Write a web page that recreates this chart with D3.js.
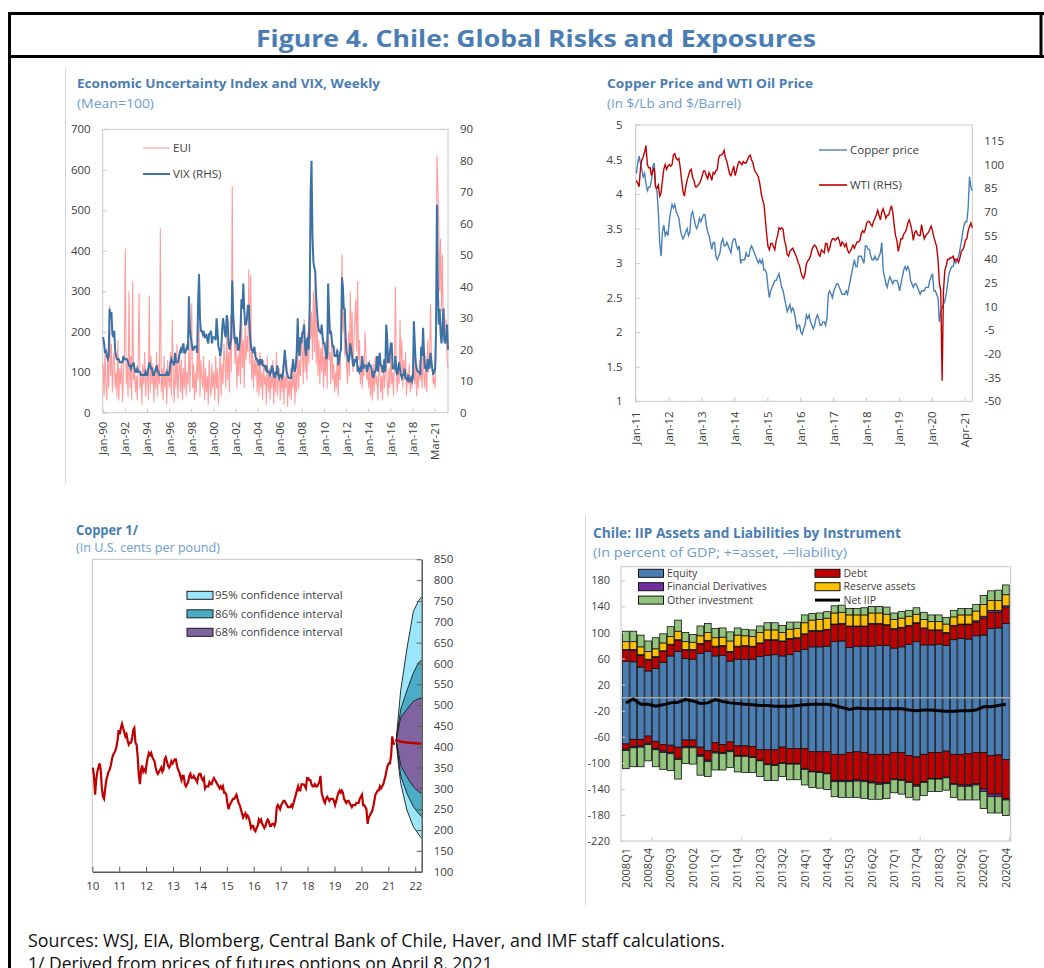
<!DOCTYPE html>
<html>
<head>
<meta charset="utf-8">
<script src="https://cdn.jsdelivr.net/npm/d3@7"></script>
<style>
  body { margin: 0; background: #fff; }
  svg { display: block; }
</style>
</head>
<body>
<svg id="fig" width="1044" height="968"></svg>
<script>
// ---- data ----

// Economic uncertainty index (mean=100) and VIX, monthly from Jan 1990 to Mar 2021
var euiMonthly = [
  120,40,160,70,30,140,60,265,90,170,50,130,
  150,60,100,40,180,30,110,70,130,25,90,160,
  405,70,120,40,300,60,140,30,325,80,110,50,
  90,30,130,295,60,100,20,120,70,150,40,90,
  110,30,290,50,140,70,120,25,100,60,150,40,
  120,70,455,50,110,30,140,60,100,20,130,80,
  60,150,40,230,90,25,120,60,170,35,100,140,
  50,130,30,110,60,150,40,100,70,180,50,140,
  270,60,120,30,100,50,150,80,220,40,130,90,
  60,140,30,110,50,90,20,130,70,40,120,60,
  100,30,140,60,110,20,90,150,40,120,70,170,
  130,60,190,80,150,50,240,100,560,180,220,120,
  190,60,140,90,200,70,250,110,180,60,220,130,
  190,150,355,120,340,80,160,60,130,90,150,50,
  120,40,150,60,100,30,130,70,90,20,140,50,
  110,30,90,60,130,20,100,50,150,40,80,110,
  30,100,50,120,20,90,60,130,15,80,40,110,
  30,90,60,120,20,100,50,170,60,130,90,200,
  150,70,230,100,160,80,200,120,280,180,250,130,
  300,150,352,120,230,90,180,70,160,100,200,60,
  140,90,180,60,250,130,150,70,190,80,120,50,
  100,60,160,40,130,80,220,390,200,250,140,180,
  120,70,200,90,300,140,250,100,180,230,280,150,
  325,130,180,70,140,60,120,90,200,150,80,110,
  60,130,40,100,30,120,50,140,70,90,30,110,
  120,50,90,30,130,60,100,150,80,40,110,60,
  160,70,100,40,130,311,90,50,120,70,230,100,
  180,60,130,80,150,40,100,70,120,50,90,60,
  110,150,70,120,40,100,60,130,80,110,60,150,
  90,60,140,50,180,100,120,268,150,110,70,90,
  60,130,635,560,470,300,430,250,390,200,260,180,
  230,130,110
];
var vixMonthly = [
  24,22,19,20,18,17,18,33,30,32,25,24,
  26,20,18,17,17,17,16,16,16,16,18,17,
  17,17,17,16,15,15,14,15,15,16,14,13,
  13,14,13,13,13,12,12,12,12,12,13,12,
  12,14,16,15,14,14,12,12,13,14,15,13,
  13,12,12,12,12,12,12,12,12,13,12,12,
  13,16,17,16,16,15,19,16,16,16,17,19,
  20,19,21,22,19,19,20,21,20,37,27,24,
  22,20,20,21,21,21,19,35,44,30,26,26,
  25,26,24,24,25,23,22,25,25,26,22,24,
  24,24,23,30,26,21,20,18,20,26,30,28,
  25,24,31,29,22,20,22,24,42,32,26,23,
  22,24,20,20,22,27,36,33,41,33,28,28,
  30,34,34,26,22,20,20,19,21,18,17,17,
  16,15,17,16,17,15,15,15,14,15,13,13,
  13,12,13,15,14,12,11,13,12,15,12,11,
  12,12,11,12,16,20,16,13,12,11,11,11,
  11,14,17,14,13,15,20,30,20,18,24,22,
  25,26,28,21,18,23,24,20,34,70,80,56,
  48,46,45,37,32,28,26,26,25,28,24,22,
  22,20,17,18,41,32,25,26,23,21,21,18,
  18,18,20,15,17,19,20,43,40,33,33,24,
  19,18,16,17,22,20,18,15,15,17,16,18,
  13,14,13,14,13,18,14,15,15,15,13,14,
  16,15,15,14,12,11,13,13,14,18,13,17,
  19,15,15,13,13,17,13,28,24,16,16,19,
  22,22,14,14,14,18,13,12,14,16,14,12,
  11,12,12,14,11,11,10,12,10,10,11,10,
  11,29,22,16,14,13,13,13,12,21,18,27,
  19,14,15,13,17,15,14,19,16,14,12,13,
  14,25,66,40,28,33,25,22,27,33,23,22,
  24,28,20
];
var euiTickYears = [1990,1992,1994,1996,1998,2000,2002,2004,2006,2008,2010,2012,2014,2016,2018,2020];
var euiTickLabels = ['Jan-90','Jan-92','Jan-94','Jan-96','Jan-98','Jan-00','Jan-02','Jan-04','Jan-06','Jan-08','Jan-10','Jan-12','Jan-14','Jan-16','Jan-18','Mar-21'];

// Copper ($/lb) and WTI ($/barrel), twice a month from Jan 2011 to Mar 2021
var copperPrice = [
  4.30,4.45,4.55,4.45,4.35,4.25,4.30,4.15,4.05,4.10,4.10,4.20,4.40,4.45,4.10,4.05,3.75,3.30,3.10,3.45,3.55,3.40,3.45,3.40,
  3.60,3.75,3.85,3.80,3.85,3.75,3.70,3.65,3.50,3.40,3.35,3.40,3.45,3.50,3.40,3.45,3.70,3.75,3.65,3.55,3.50,3.55,3.65,3.60,
  3.65,3.70,3.70,3.55,3.45,3.40,3.30,3.20,3.30,3.30,3.10,3.05,3.10,3.15,3.30,3.35,3.25,3.25,3.30,3.25,3.20,3.15,3.30,3.35,
  3.35,3.25,3.20,3.25,3.00,3.05,3.05,3.05,3.15,3.10,3.10,3.20,3.25,3.20,3.15,3.10,3.05,3.00,3.05,3.00,3.05,2.90,2.90,2.85,
  2.65,2.50,2.60,2.65,2.70,2.75,2.75,2.80,2.85,2.75,2.65,2.60,2.50,2.40,2.30,2.35,2.40,2.30,2.35,2.30,2.20,2.05,2.10,2.10,
  2.00,1.97,2.05,2.10,2.25,2.20,2.25,2.15,2.10,2.05,2.10,2.20,2.25,2.20,2.10,2.10,2.15,2.15,2.10,2.20,2.55,2.60,2.55,2.50,
  2.60,2.65,2.70,2.70,2.65,2.60,2.55,2.55,2.55,2.60,2.55,2.65,2.75,2.85,2.95,3.05,2.95,2.95,3.10,3.10,3.10,3.05,3.00,3.25,
  3.25,3.20,3.20,3.10,3.05,3.05,3.10,3.05,3.05,3.10,3.15,3.30,2.90,2.80,2.70,2.65,2.75,2.80,2.75,2.70,2.75,2.75,2.75,2.70,
  2.60,2.70,2.80,2.90,2.95,2.90,2.95,2.90,2.75,2.70,2.65,2.70,2.70,2.65,2.60,2.55,2.60,2.60,2.60,2.65,2.65,2.65,2.75,2.80,
  2.85,2.60,2.60,2.55,2.50,2.15,2.30,2.35,2.40,2.45,2.55,2.70,2.85,2.90,2.95,2.95,3.05,3.00,3.05,3.10,3.20,3.30,3.45,3.55,
  3.60,3.60,3.80,4.25,4.10,4.05
];
var wtiPrice = [
  90,88,86,98,103,105,108,112,100,98,98,93,96,98,86,85,87,80,82,90,97,100,97,99,
  100,99,100,106,107,104,103,104,98,90,83,80,86,90,93,96,97,92,90,86,86,87,88,90,
  93,96,96,93,91,95,93,90,95,94,96,97,104,106,106,107,109,104,102,98,94,93,96,99,
  93,96,100,102,101,100,102,101,101,103,105,106,103,101,97,95,94,92,88,82,78,75,66,56,
  48,46,50,50,48,46,52,55,60,59,60,59,52,49,43,42,45,46,47,45,43,41,38,36,
  32,29,28,31,37,39,40,42,46,48,49,48,46,43,42,46,45,44,50,50,45,47,51,53,
  53,52,53,54,52,48,51,50,48,50,46,44,45,47,49,47,49,51,51,52,56,58,57,59,
  63,64,64,62,61,64,66,68,71,68,65,70,72,69,66,68,68,71,74,70,62,55,52,45,
  49,53,53,56,57,59,63,65,62,58,52,57,58,56,55,55,62,57,53,55,56,57,59,61,
  58,54,51,48,40,25,20,-37,20,33,36,40,40,41,41,42,39,40,40,38,41,45,46,48,
  52,53,58,61,63,60
];
var oilTickYears = [2011,2012,2013,2014,2015,2016,2017,2018,2019,2020,2021];
var oilTickLabels = ['Jan-11','Jan-12','Jan-13','Jan-14','Jan-15','Jan-16','Jan-17','Jan-18','Jan-19','Jan-20','Apr-21'];

// Copper in U.S. cents per pound: 2010 twice a month, then the copper series above
var copper2010Cents = [350,330,285,320,340,350,360,345,300,280,275,300,320,330,340,345,355,370,380,385,390,400,415,440];
// fan from futures options (April 8, 2021)
var fanDates = [2021.29, 2021.38, 2021.46, 2021.69, 2021.93, 2022.12, 2022.24];
var fanMedian = [417, 414, 412, 410, 409, 408, 407];
var fan95Hi = [415, 480, 535, 635, 725, 750, 760];
var fan86Hi = [415, 455, 490, 535, 577, 602, 608];
var fan68Hi = [415, 445, 470, 490, 509, 515, 517];
var fan68Lo = [415, 385, 355, 328, 304, 292, 288];
var fan86Lo = [415, 370, 330, 288, 256, 240, 232];
var fan95Lo = [415, 355, 312, 248, 208, 190, 180];
var fanTickYears = [2010,2011,2012,2013,2014,2015,2016,2017,2018,2019,2020,2021,2022];
var fanTickLabels = ['10','11','12','13','14','15','16','17','18','19','20','21','22'];

// IIP, percent of GDP
var quarters = [
  '2008Q1','2008Q2','2008Q3','2008Q4','2009Q1','2009Q2','2009Q3','2009Q4','2010Q1','2010Q2','2010Q3','2010Q4',
  '2011Q1','2011Q2','2011Q3','2011Q4','2012Q1','2012Q2','2012Q3','2012Q4','2013Q1','2013Q2','2013Q3','2013Q4',
  '2014Q1','2014Q2','2014Q3','2014Q4','2015Q1','2015Q2','2015Q3','2015Q4','2016Q1','2016Q2','2016Q3','2016Q4',
  '2017Q1','2017Q2','2017Q3','2017Q4','2018Q1','2018Q2','2018Q3','2018Q4','2019Q1','2019Q2','2019Q3','2019Q4',
  '2020Q1','2020Q2','2020Q3','2020Q4'
];
var assetEquity = [56,55,47,41,45,54,64,71,60,59,68,71,64,65,56,59,59,59,63,65,66,64,66,71,74,78,78,79,86,87,77,79,79,79,80,80,76,78,82,86,81,81,82,80,89,91,90,95,96,106,107,114];
var assetDebt = [17,18,18,17,17,17,17,17,13,14,14,16,14,14,14,19,20,19,20,23,22,22,24,20,23,24,24,25,26,26,32,30,30,34,33,31,29,29,28,28,25,22,21,19,21,21,22,21,26,25,24,24];
var assetDerivatives = [1,1,1,1,1,1,1,1,1,1,1,1,1,1,1,1,1,1,1,1,1,1,1,1,1,1,1,1,1,1,1,1,1,1,1,1,1,1,1,1,1,1,1,1,1,1,1,2,3,3,3,3];
var reserveAssets = [12,12,12,12,12,12,12,13,12,11,12,12,13,13,16,17,15,15,16,15,15,13,14,14,17,16,17,17,17,17,17,17,17,16,16,16,14,14,14,13,13,13,13,13,13,14,14,15,18,15,15,17];
var assetOther = [16,16,18,16,17,14,15,17,14,12,15,14,14,14,14,11,10,10,10,11,11,11,11,10,12,10,10,10,11,11,10,10,11,10,10,11,10,10,9,10,11,10,10,10,10,10,10,10,14,15,16,15];
var liabEquity = [-71,-64,-64,-59,-67,-72,-73,-76,-65,-65,-76,-81,-69,-72,-68,-74,-74,-75,-80,-80,-80,-76,-78,-78,-78,-83,-83,-83,-87,-87,-84,-83,-84,-87,-87,-87,-84,-84,-89,-91,-87,-84,-84,-82,-87,-87,-86,-84,-84,-89,-88,-95];
var liabDebt = [-8,-11,-10,-11,-11,-10,-11,-17,-10,-10,-12,-15,-14,-12,-13,-15,-15,-16,-16,-22,-23,-24,-23,-23,-31,-30,-31,-33,-40,-40,-43,-43,-43,-42,-44,-43,-41,-42,-40,-43,-42,-40,-40,-40,-45,-47,-48,-48,-56,-59,-60,-60];
var liabDerivatives = [-2,-2,-2,-2,-2,-2,-2,-2,-2,-2,-2,-2,-2,-2,-2,-1,-1,-1,-1,-1,-1,-1,-1,-1,-1,-1,-1,-1,-2,-2,-2,-2,-2,-2,-2,-2,-1,-1,-1,-2,-1,-1,-1,-1,-1,-2,-2,-2,-4,-4,-4,-2];
var liabOther = [-28,-29,-30,-25,-26,-26,-26,-30,-24,-25,-29,-23,-26,-25,-24,-24,-25,-23,-24,-24,-23,-20,-24,-24,-24,-24,-24,-24,-23,-24,-24,-25,-26,-25,-23,-23,-20,-21,-23,-21,-20,-19,-19,-19,-20,-21,-21,-23,-26,-25,-25,-24];
var netIIP = [-8,-2,-10,-10,-13,-11,-8,-7,-3,-5,-9,-8,-3,-6,-8,-9,-10,-11,-12,-12,-13,-13,-13,-12,-11,-10,-10,-10,-12,-15,-18,-16,-17,-17,-17,-17,-17,-17,-19,-20,-19,-19,-20,-21,-21,-20,-20,-19,-14,-14,-12,-10];
var iipLabelEvery = 3;

// ---- styles ----
var FONT = "'Open Sans', 'Noto Sans', sans-serif";
var TITLE_BLUE = '#4a7db3', SUB_BLUE = '#6d9dcb', AXIS_TEXT = '#404040', BOX = '#c8c8c8';
var C = { equity: '#4a7db3', debt: '#c00000', deriv: '#7030a0', reserve: '#ffc000', other: '#93c47d' };
var plain = function (d) { return String(d); };

var svg = d3.select('#fig').attr('font-family', FONT);

function styleAxis(g, size) {
  g.attr('font-family', FONT).attr('font-size', size);
  g.selectAll('.tick text').attr('fill', AXIS_TEXT);
}

function rotateLabels(g, gap) {
  g.selectAll('.tick text')
      .attr('transform', 'rotate(-90)')
      .attr('x', -gap)
      .attr('y', 0)
      .attr('dy', '0.35em')
      .attr('text-anchor', 'end');
}

function panelTitle(x, y, title, titleLen, titleSize, sub, subLen, gap) {
  svg.append('text')
      .attr('x', x).attr('y', y)
      .attr('font-size', titleSize).attr('font-weight', 700)
      .attr('fill', TITLE_BLUE)
      .attr('textLength', titleLen).attr('lengthAdjust', 'spacingAndGlyphs')
      .text(title);
  svg.append('text')
      .attr('x', x).attr('y', y + gap)
      .attr('font-size', 13)
      .attr('fill', SUB_BLUE)
      .attr('textLength', subLen).attr('lengthAdjust', 'spacingAndGlyphs')
      .text(sub);
}

function drawFrame() {
  var f = svg.append('g').attr('stroke', '#000').attr('stroke-width', 3);
  f.append('line').attr('x1', 8).attr('x2', 1044).attr('y1', 13.5).attr('y2', 13.5);
  f.append('line').attr('x1', 8).attr('x2', 1044).attr('y1', 56.5).attr('y2', 56.5);
  f.append('line').attr('x1', 9.5).attr('x2', 9.5).attr('y1', 12).attr('y2', 968);
  f.append('line').attr('x1', 1041).attr('x2', 1041).attr('y1', 12).attr('y2', 58);

  svg.append('text')
      .attr('x', 256).attr('y', 47)
      .attr('font-size', 24).attr('font-weight', 700)
      .attr('fill', TITLE_BLUE)
      .attr('textLength', 560).attr('lengthAdjust', 'spacingAndGlyphs')
      .text('Figure 4. Chile: Global Risks and Exposures');

  // faint chart-area edges
  svg.append('line').attr('x1', 65.5).attr('x2', 65.5).attr('y1', 68).attr('y2', 483)
      .attr('stroke', '#d4d4d4');
  svg.append('line').attr('x1', 585.5).attr('x2', 585.5).attr('y1', 515).attr('y2', 905)
      .attr('stroke', '#d4d4d4');

  svg.append('text')
      .attr('x', 28).attr('y', 947)
      .attr('font-size', 18).attr('fill', '#111')
      .attr('textLength', 697).attr('lengthAdjust', 'spacingAndGlyphs')
      .text('Sources: WSJ, EIA, Blomberg, Central Bank of Chile, Haver, and IMF staff calculations.');
  svg.append('text')
      .attr('x', 28).attr('y', 970)
      .attr('font-size', 18).attr('fill', '#111')
      .attr('textLength', 469).attr('lengthAdjust', 'spacingAndGlyphs')
      .text('1/ Derived from prices of futures options on April 8, 2021.');
}

function lineLegend(items, x0, y0, step, len, size) {
  var lg = svg.append('g').attr('font-size', size);
  items.forEach(function (d, i) {
    var yy = y0 + i * step;
    lg.append('line').attr('x1', x0).attr('x2', x0 + len).attr('y1', yy).attr('y2', yy)
        .attr('stroke', d.color).attr('stroke-width', d.width);
    lg.append('text').attr('x', x0 + len + 3).attr('y', yy).attr('dy', '0.35em')
        .attr('fill', AXIS_TEXT).text(d.name);
  });
}

function drawUncertainty() {
  var box = { l: 102.7, r: 448, t: 129.3, b: 412.7 };
  var x = d3.scaleLinear().domain([1990, 2021.21]).range([box.l, box.r]);
  var yL = d3.scaleLinear().domain([0, 700]).range([box.b, box.t]);
  var yR = d3.scaleLinear().domain([0, 90]).range([box.b, box.t]);
  var g = svg.append('g');

  g.append('rect')
      .attr('x', box.l).attr('y', box.t)
      .attr('width', box.r - box.l).attr('height', box.b - box.t)
      .attr('fill', 'none').attr('stroke', BOX);

  var gl = g.append('g').attr('transform', 'translate(' + box.l + ',0)')
      .call(d3.axisLeft(yL).tickValues(d3.range(0, 701, 100)).tickFormat(plain)
        .tickSizeInner(-4).tickSizeOuter(0).tickPadding(12));
  gl.select('.domain').remove();
  gl.selectAll('.tick line').attr('stroke', BOX);
  styleAxis(gl, 11.5);

  var gr = g.append('g').attr('transform', 'translate(' + box.r + ',0)')
      .call(d3.axisRight(yR).tickValues(d3.range(0, 91, 10)).tickFormat(plain).tickSize(0).tickPadding(12));
  gr.select('.domain').remove();
  styleAxis(gr, 11.5);

  var gb = g.append('g').attr('transform', 'translate(0,' + box.b + ')')
      .call(d3.axisBottom(x).tickValues(euiTickYears)
        .tickFormat(function (d, i) { return euiTickLabels[i]; })
        .tickSizeInner(-4).tickSizeOuter(0));
  gb.select('.domain').remove();
  gb.selectAll('.tick line').attr('stroke', BOX);
  styleAxis(gb, 11.5);
  rotateLabels(gb, 9);

  var monthX = function (d, i) { return x(1990 + (i + 0.5) / 12); };

  g.append('path')
      .datum(euiMonthly)
      .attr('d', d3.line().x(monthX).y(function (d) { return yL(d); }))
      .attr('fill', 'none')
      .attr('stroke', '#ff9d9d')
      .attr('stroke-width', 1.1);

  g.append('path')
      .datum(vixMonthly)
      .attr('d', d3.line().x(monthX).y(function (d) { return yR(d); }))
      .attr('fill', 'none')
      .attr('stroke', '#3b71a5')
      .attr('stroke-width', 2);

  lineLegend([
    { name: 'EUI', color: '#ffa6a6', width: 1.2 },
    { name: 'VIX (RHS)', color: '#3b71a5', width: 2 }
  ], 143, 148, 26, 27, 11.5);

  panelTitle(77, 87.5, 'Economic Uncertainty Index and VIX, Weekly', 303, 13, '(Mean=100)', 77, 20);
}

function drawOil() {
  var box = { l: 635.7, r: 972.3, t: 125, b: 401.3 };
  var x = d3.scaleLinear().domain([2011, 2021.23]).range([box.l, box.r]);
  var yL = d3.scaleLinear().domain([1, 5]).range([box.b, box.t]);
  var yR = d3.scaleLinear().domain([-50, 125.1]).range([box.b, box.t]);
  var g = svg.append('g');

  g.append('rect')
      .attr('x', box.l).attr('y', box.t)
      .attr('width', box.r - box.l).attr('height', box.b - box.t)
      .attr('fill', 'none').attr('stroke', BOX);

  var gl = g.append('g').attr('transform', 'translate(' + box.l + ',0)')
      .call(d3.axisLeft(yL).tickValues(d3.range(1, 5.01, 0.5)).tickFormat(plain)
        .tickSizeInner(-4).tickSizeOuter(0).tickPadding(13));
  gl.select('.domain').remove();
  gl.selectAll('.tick line').attr('stroke', BOX);
  styleAxis(gl, 11.5);

  var gr = g.append('g').attr('transform', 'translate(' + box.r + ',0)')
      .call(d3.axisRight(yR).tickValues(d3.range(-50, 116, 15)).tickFormat(plain).tickSize(0).tickPadding(12));
  gr.select('.domain').remove();
  styleAxis(gr, 11.5);

  var gb = g.append('g').attr('transform', 'translate(0,' + box.b + ')')
      .call(d3.axisBottom(x).tickValues(oilTickYears)
        .tickFormat(function (d, i) { return oilTickLabels[i]; })
        .tickSizeInner(-4).tickSizeOuter(0));
  gb.select('.domain').remove();
  gb.selectAll('.tick line').attr('stroke', BOX);
  styleAxis(gb, 11.5);
  rotateLabels(gb, 10);

  var halfMonthX = function (d, i) { return x(2011 + (i + 0.5) / 24); };

  g.append('path')
      .datum(copperPrice)
      .attr('d', d3.line().x(halfMonthX).y(function (d) { return yL(d); }))
      .attr('fill', 'none')
      .attr('stroke', '#4a80b8')
      .attr('stroke-width', 1.4);

  g.append('path')
      .datum(wtiPrice)
      .attr('d', d3.line().x(halfMonthX).y(function (d) { return yR(d); }))
      .attr('fill', 'none')
      .attr('stroke', '#c00000')
      .attr('stroke-width', 1.4);

  lineLegend([
    { name: 'Copper price', color: '#4a80b8', width: 1.4 },
    { name: 'WTI (RHS)', color: '#c00000', width: 1.6 }
  ], 819, 150, 35, 28, 11.5);

  panelTitle(607, 88, 'Copper Price and WTI Oil Price', 206, 13, '(In $/Lb and $/Barrel)', 134, 19.5);
}

function drawCopperFan() {
  var box = { l: 92.3, r: 421.7, t: 559.3, b: 871.7 };
  var x = d3.scaleLinear().domain([2010, 2022.24]).range([box.l, box.r]);
  var y = d3.scaleLinear().domain([100, 850]).range([box.b, box.t]);
  var g = svg.append('g');

  g.append('path')
      .attr('d', 'M' + box.l + ',' + box.b + 'V' + box.t + 'H' + box.r)
      .attr('fill', 'none').attr('stroke', BOX);

  function band(lo, hi) {
    return d3.area()
        .x(function (d, i) { return x(fanDates[i]); })
        .y0(function (d, i) { return y(lo[i]); })
        .y1(function (d, i) { return y(hi[i]); })(fanDates);
  }
  function edge(vals) {
    return d3.line()
        .x(function (d, i) { return x(fanDates[i]); })
        .y(function (d) { return y(d); })(vals);
  }

  g.append('path').attr('d', band(fan95Lo, fan95Hi)).attr('fill', '#9be6fb');
  g.append('path').attr('d', band(fan86Lo, fan86Hi)).attr('fill', '#4aacc6');
  g.append('path').attr('d', band(fan68Lo, fan68Hi)).attr('fill', '#8064a2');
  [fan95Hi, fan86Hi, fan68Hi, fan68Lo, fan86Lo, fan95Lo].forEach(function (vals) {
    g.append('path').attr('d', edge(vals))
        .attr('fill', 'none').attr('stroke', '#1a1a1a').attr('stroke-width', 0.9);
  });

  var hist = copper2010Cents.map(function (v, i) { return { t: 2010 + (i + 0.5) / 24, v: v }; })
      .concat(copperPrice.map(function (v, i) { return { t: 2011 + (i + 0.5) / 24, v: v * 100 }; }));

  g.append('path')
      .datum(hist)
      .attr('d', d3.line().x(function (d) { return x(d.t); }).y(function (d) { return y(d.v); }))
      .attr('fill', 'none')
      .attr('stroke', '#c00000')
      .attr('stroke-width', 2.2);

  g.append('path')
      .attr('d', edge(fanMedian))
      .attr('fill', 'none')
      .attr('stroke', '#c00000')
      .attr('stroke-width', 2.5);

  var gb = g.append('g').attr('transform', 'translate(0,' + box.b + ')')
      .call(d3.axisBottom(x).tickValues(fanTickYears)
        .tickFormat(function (d, i) { return fanTickLabels[i]; })
        .tickSizeInner(-5).tickSizeOuter(0).tickPadding(10));
  gb.select('.domain').attr('stroke', '#595959').attr('stroke-width', 1.5);
  gb.selectAll('.tick line').attr('stroke', '#595959');
  styleAxis(gb, 11.5);

  var gr = g.append('g').attr('transform', 'translate(' + box.r + ',0)')
      .call(d3.axisRight(y).tickValues(d3.range(100, 851, 50)).tickFormat(plain)
        .tickSizeInner(-5).tickSizeOuter(0).tickPadding(12));
  gr.select('.domain').attr('stroke', '#595959').attr('stroke-width', 1.5);
  gr.selectAll('.tick line').attr('stroke', '#595959');
  styleAxis(gr, 11.5);

  var legend = [
    { name: '95% confidence interval', color: '#9be6fb' },
    { name: '86% confidence interval', color: '#4aacc6' },
    { name: '68% confidence interval', color: '#8064a2' }
  ];
  var lg = g.append('g').attr('font-size', 11.5);
  legend.forEach(function (d, i) {
    var yy = 595.3 + i * 18.5;
    lg.append('rect').attr('x', 187).attr('y', yy - 4).attr('width', 26).attr('height', 8)
        .attr('fill', d.color).attr('stroke', '#1a1a1a').attr('stroke-width', 1);
    lg.append('text').attr('x', 215).attr('y', yy).attr('dy', '0.35em')
        .attr('fill', AXIS_TEXT).text(d.name);
  });

  panelTitle(76, 534.5, 'Copper 1/', 62, 13.5, '(In U.S. cents per pound)', 144, 17.5);
}

function drawIIP() {
  var box = { l: 621, r: 1010.7, t: 566.7, b: 841 };
  var x = d3.scaleBand().domain(quarters).range([box.l, box.r]).paddingInner(0.1).paddingOuter(0.2);
  var y = d3.scaleLinear().domain([-220, 201]).range([box.b, box.t]);
  var g = svg.append('g');

  g.append('rect')
      .attr('x', box.l).attr('y', box.t)
      .attr('width', box.r - box.l).attr('height', box.b - box.t)
      .attr('fill', 'none').attr('stroke', BOX);

  var rows = quarters.map(function (q, i) {
    return {
      q: q,
      aEq: assetEquity[i], aDebt: assetDebt[i], aDer: assetDerivatives[i], aRes: reserveAssets[i], aOth: assetOther[i],
      lEq: liabEquity[i], lDebt: liabDebt[i], lDer: liabDerivatives[i], lOth: liabOther[i]
    };
  });
  var keys = ['aEq', 'lEq', 'aDebt', 'lDebt', 'aDer', 'lDer', 'aRes', 'aOth', 'lOth'];
  var colorOf = {
    aEq: C.equity, lEq: C.equity, aDebt: C.debt, lDebt: C.debt, aDer: C.deriv, lDer: C.deriv,
    aRes: C.reserve, aOth: C.other, lOth: C.other
  };
  var series = d3.stack().keys(keys).offset(d3.stackOffsetDiverging)(rows);

  g.append('g')
    .selectAll('g')
    .data(series)
    .enter().append('g')
      .attr('fill', function (s) { return colorOf[s.key]; })
    .selectAll('rect')
    .data(function (s) { return s; })
    .enter().append('rect')
      .attr('x', function (d) { return x(d.data.q); })
      .attr('y', function (d) { return y(Math.max(d[0], d[1])); })
      .attr('width', x.bandwidth())
      .attr('height', function (d) { return Math.abs(y(d[0]) - y(d[1])); })
      .attr('stroke', '#111')
      .attr('stroke-width', 0.8);

  g.append('line')
      .attr('x1', box.l).attr('x2', box.r)
      .attr('y1', y(0)).attr('y2', y(0))
      .attr('stroke', '#a6a6a6').attr('stroke-width', 1.5);

  g.append('path')
      .datum(netIIP)
      .attr('d', d3.line()
        .x(function (d, i) { return x(quarters[i]) + x.bandwidth() / 2; })
        .y(function (d) { return y(d); }))
      .attr('fill', 'none')
      .attr('stroke', '#000')
      .attr('stroke-width', 3);

  var gl = g.append('g').attr('transform', 'translate(' + box.l + ',0)')
      .call(d3.axisLeft(y).tickValues(d3.range(-220, 181, 40)).tickFormat(plain)
        .tickSizeInner(-4).tickSizeOuter(0).tickPadding(11));
  gl.select('.domain').remove();
  gl.selectAll('.tick line').attr('stroke', BOX);
  styleAxis(gl, 11);

  var labelled = quarters.filter(function (q, i) { return i % iipLabelEvery === 0; });
  var gb = g.append('g').attr('transform', 'translate(0,' + box.b + ')')
      .call(d3.axisBottom(x).tickValues(labelled).tickSize(0));
  gb.select('.domain').remove();
  styleAxis(gb, 11);
  rotateLabels(gb, 7);

  // small boundary ticks every 12 quarters
  var step = x.step();
  g.append('g')
    .selectAll('line')
    .data(quarters.filter(function (q, i) { return i % 12 === 3; }))
    .enter().append('line')
      .attr('x1', function (q) { return x(q) + x.bandwidth() + (step - x.bandwidth()) / 2; })
      .attr('x2', function (q) { return x(q) + x.bandwidth() + (step - x.bandwidth()) / 2; })
      .attr('y1', box.b).attr('y2', box.b - 4)
      .attr('stroke', BOX);

  var legend = [
    { name: 'Equity', color: C.equity, col: 0, row: 0 },
    { name: 'Financial Derivatives', color: C.deriv, col: 0, row: 1 },
    { name: 'Other investment', color: C.other, col: 0, row: 2 },
    { name: 'Debt', color: C.debt, col: 1, row: 0 },
    { name: 'Reserve assets', color: C.reserve, col: 1, row: 1 },
    { name: 'Net IIP', color: '#000', col: 1, row: 2, line: true }
  ];
  var lg = g.append('g').attr('font-size', 10.5);
  legend.forEach(function (d) {
    var lx = d.col === 0 ? 638.5 : 815;
    var ly = 573.3 + d.row * 13.4;
    if (d.line) {
      lg.append('line').attr('x1', lx).attr('x2', lx + 25).attr('y1', ly).attr('y2', ly)
          .attr('stroke', '#000').attr('stroke-width', 3);
    } else {
      lg.append('rect').attr('x', lx).attr('y', ly - 4).attr('width', 25).attr('height', 8)
          .attr('fill', d.color).attr('stroke', '#111').attr('stroke-width', 1);
    }
    lg.append('text').attr('x', lx + 28.5).attr('y', ly).attr('dy', '0.35em')
        .attr('fill', AXIS_TEXT).text(d.name);
  });

  panelTitle(593, 538, 'Chile: IIP Assets and Liabilities by Instrument', 308, 14, '(In percent of GDP; +=asset, -=liability)', 254, 19);
}

drawFrame();
drawUncertainty();
drawOil();
drawCopperFan();
drawIIP();
</script>
</body>
</html>
